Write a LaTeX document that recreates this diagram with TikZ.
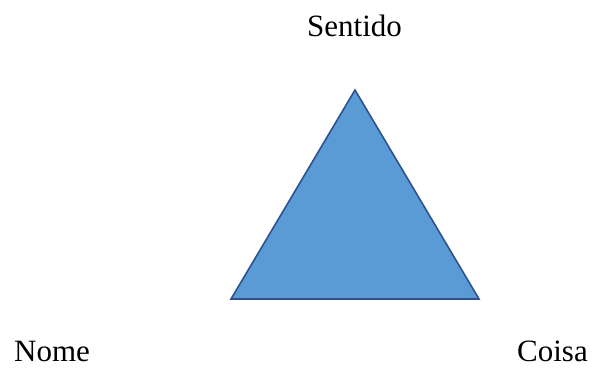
\documentclass[tikz,border=0pt]{standalone}
\usepackage{fontspec}
\setmainfont{Liberation Serif}
\definecolor{trifill}{HTML}{5B9BD5}
\definecolor{triedge}{HTML}{2F528F}
\begin{document}
\begin{tikzpicture}[x=1pt,y=1pt,
  lbl/.style={inner sep=0pt,font=\fontsize{31}{36}\selectfont}]
\useasboundingbox (0,0) rectangle (592,369);
\coordinate (apex) at (355,279);
\coordinate (bl) at (231,70);
\coordinate (br) at (479,70);
\draw[fill=trifill,draw=triedge,line width=1.6pt,line join=miter] (apex) -- (br) -- (bl) -- cycle;
\node[lbl,anchor=base west] (sentido) at (307,332) {Sentido};
\node[lbl,anchor=base west] (nome) at (14,7.5) {Nome};
\node[lbl,anchor=base east] (coisa) at (588,7.5) {Coisa};
\end{tikzpicture}
\end{document}
